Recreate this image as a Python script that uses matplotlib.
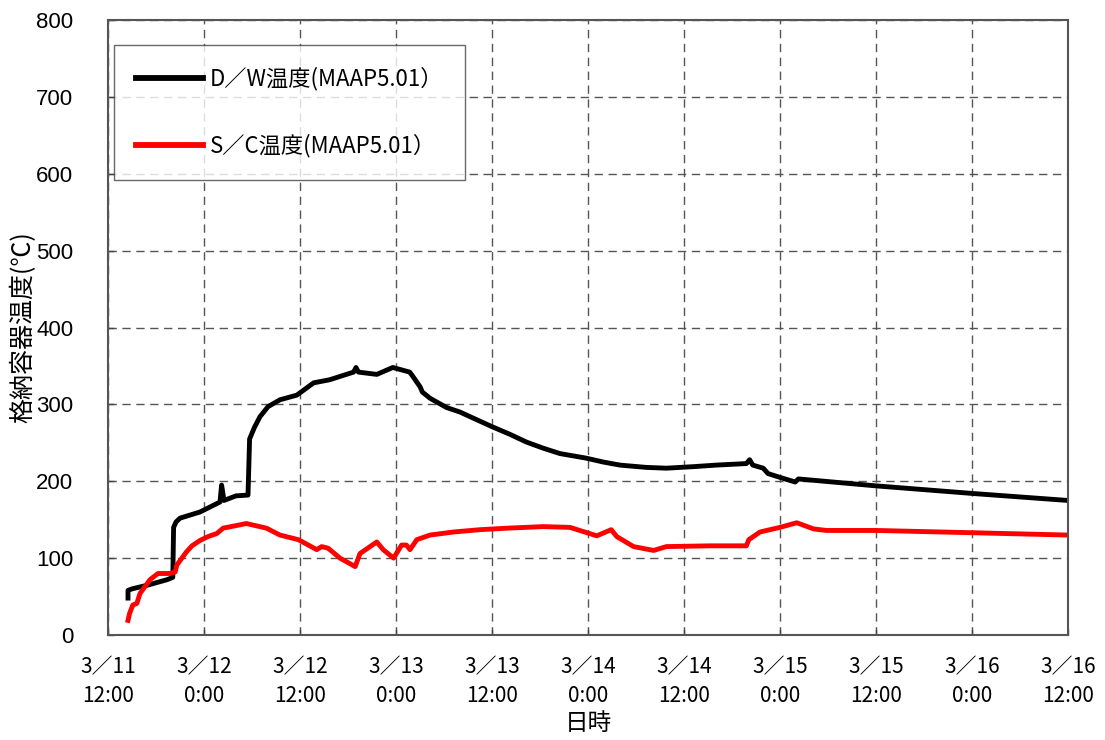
import matplotlib
matplotlib.use("Agg")
import matplotlib.pyplot as plt
from matplotlib.lines import Line2D

plt.rcParams['font.family'] = ['Noto Sans CJK JP', 'DejaVu Sans']

# hours elapsed since 3/11 12:00
dw_hours = [2.5, 2.5, 3.0, 5.0, 7.4, 8.1, 8.2, 8.5, 9.0, 11.5, 14.0, 14.2, 14.5, 16.0,
            17.5, 17.7, 18.3, 19.0, 20.0, 21.5, 23.6, 25.7, 27.7, 30.7, 31.0, 31.3,
            33.6, 35.6, 37.7, 38.0, 39.0, 39.3, 40.25, 42.3, 44.0, 46.1, 48.0, 50.25,
            52.3, 54.4, 56.5, 59.8, 61.9, 64.0, 67.3, 69.8, 73.2, 76.0, 79.8, 80.2,
            80.6, 81.9, 82.5, 84.0, 85.9, 86.3, 96.0, 108.2, 120.0]
dw_temp = [48, 58, 60, 65, 72, 75, 140, 147, 152, 160, 173, 195, 175, 181,
           182, 255, 270, 284, 297, 306, 312, 328, 332, 342, 348, 342,
           339, 348, 342, 338, 323, 316, 308, 296, 290, 280, 271, 261,
           251, 243, 236, 230, 225, 221, 218, 217, 219, 221, 223, 228,
           221, 217, 210, 205, 199, 203, 194, 184, 175]

sc_hours = [2.5, 2.7, 3.1, 3.6, 4.0, 5.25, 6.25, 7.75, 8.4, 8.6, 9.8, 10.5, 11.5, 12.5,
            13.6, 14.4, 17.3, 19.8, 21.5, 23.8, 26.1, 26.7, 27.5, 29.0, 30.9, 31.5,
            33.6, 34.4, 35.7, 36.7, 37.3, 37.75, 38.6, 40.25, 43.2, 46.5, 50.0, 54.4,
            57.75, 61.1, 62.9, 63.6, 65.7, 68.2, 69.8, 75.25, 79.8, 80.1, 81.5, 84.0,
            86.1, 88.2, 89.8, 96.0, 108.2, 120.0]
sc_temp = [19, 28, 39, 41, 54, 72, 80, 80, 82, 91, 108, 116, 123, 128,
           132, 139, 145, 139, 130, 124, 111, 115, 113, 100, 89, 106,
           121, 111, 100, 117, 117, 111, 124, 130, 134, 137, 139, 141,
           140, 129, 137, 128, 115, 110, 115, 116, 116, 124, 134, 140,
           146, 138, 136, 136, 133, 130]

tick_hours = [0, 12, 24, 36, 48, 60, 72, 84, 96, 108, 120]
tick_labels = ["3／11\n12:00", "3／12\n0:00", "3／12\n12:00", "3／13\n0:00",
               "3／13\n12:00", "3／14\n0:00", "3／14\n12:00", "3／15\n0:00",
               "3／15\n12:00", "3／16\n0:00", "3／16\n12:00"]
y_ticks = [0, 100, 200, 300, 400, 500, 600, 700, 800]

fig = plt.figure(figsize=(11.05, 7.4), dpi=100)
ax = fig.add_axes([108 / 1105, 1 - 635 / 740, 960 / 1105, 615 / 740])

ax.plot(dw_hours, dw_temp, color="black", lw=3.5, solid_joinstyle="round")
ax.plot(sc_hours, sc_temp, color="#ff0000", lw=3.5, solid_joinstyle="round")

ax.set_xlim(0, 120)
ax.set_ylim(0, 800)
ax.set_xticks(tick_hours)
ax.set_xticklabels(tick_labels, fontsize=15, linespacing=1.45)
ax.set_yticks(y_ticks)
ax.set_yticklabels([str(v) for v in y_ticks], fontsize=16, family="Liberation Sans")
ax.tick_params(direction="in", length=4, width=1, color="#444444")
ax.tick_params(axis="x", pad=15)
ax.tick_params(axis="y", pad=25)

ax.grid(True, color="#555555", linestyle=(0, (6, 4)), linewidth=1)
for s in ax.spines.values():
    s.set_color("#555555")
    s.set_linewidth(1.5)

ax.set_xlabel("日時", fontsize=17)
ax.xaxis.set_label_coords(0.5, -0.125)
ax.set_ylabel("格納容器温度(℃)", fontsize=18)
ax.yaxis.set_label_coords(-0.075, 0.5)

handles = [Line2D([], [], color="black", lw=4.2),
           Line2D([], [], color="#ff0000", lw=4.2)]
leg = ax.legend(handles, ["D／W温度(MAAP5.01）", "S／C温度(MAAP5.01）"],
                loc="upper left", bbox_to_anchor=(6 / 960, 1 - 25 / 615),
                fontsize=16, frameon=True, fancybox=False, edgecolor="#444444",
                borderpad=1.0, labelspacing=1.95, handlelength=3.0, handletextpad=0.3,
                borderaxespad=0)
leg.get_frame().set_linewidth(1)

fig.savefig("out.png", dpi=100)
